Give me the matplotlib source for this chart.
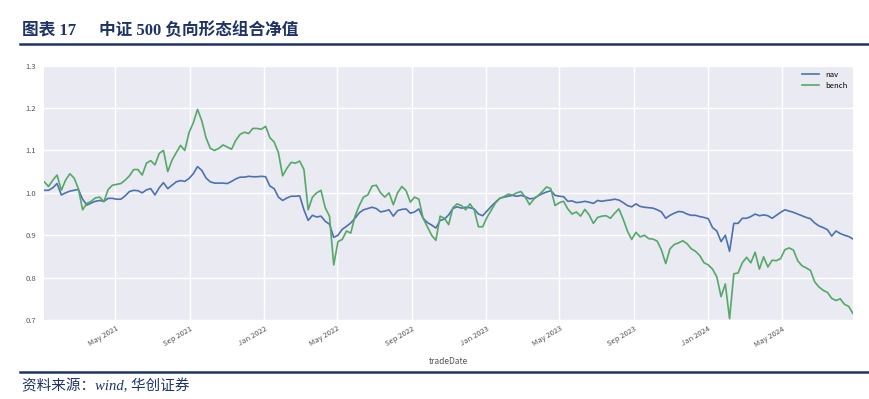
import matplotlib
matplotlib.use('Agg')
import matplotlib.pyplot as plt
import matplotlib.dates as mdates
import pandas as pd

plt.rcParams['font.family'] = ['Noto Sans CJK SC', 'DejaVu Sans']

# weekly net value (2021-01-04 .. 2024-08-26)
start_date = '2021-01-04'

nav = [
    1.006, 1.006, 1.012, 1.022, 0.995, 1.000, 1.004, 1.006, 1.008, 0.985,
    0.971, 0.976, 0.980, 0.982, 0.980, 0.987, 0.987, 0.985, 0.985, 0.993,
    1.003, 1.006, 1.005, 1.000, 1.007, 1.010, 0.995, 1.012, 1.024, 1.010,
    1.018, 1.026, 1.029, 1.027, 1.034, 1.045, 1.062, 1.053, 1.035, 1.026,
    1.023, 1.023, 1.023, 1.022, 1.027, 1.033, 1.037, 1.037, 1.039, 1.038,
    1.038, 1.039, 1.038, 1.016, 1.010, 0.990, 0.982, 0.988, 0.992, 0.992,
    0.993, 0.960, 0.935, 0.947, 0.943, 0.945, 0.933, 0.926, 0.895, 0.900,
    0.914, 0.921, 0.929, 0.940, 0.953, 0.960, 0.963, 0.966, 0.963, 0.955,
    0.957, 0.960, 0.945, 0.958, 0.961, 0.962, 0.952, 0.955, 0.962, 0.940,
    0.930, 0.924, 0.917, 0.935, 0.938, 0.948, 0.963, 0.967, 0.964, 0.966,
    0.965, 0.962, 0.950, 0.946, 0.957, 0.968, 0.978, 0.987, 0.990, 0.992,
    0.994, 0.992, 0.994, 0.991, 0.986, 0.987, 0.993, 0.998, 1.002, 1.005,
    0.994, 0.992, 0.991, 0.980, 0.981, 0.977, 0.978, 0.980, 0.978, 0.975,
    0.982, 0.980, 0.982, 0.983, 0.985, 0.983, 0.977, 0.970, 0.967, 0.974,
    0.968, 0.966, 0.965, 0.964, 0.960, 0.955, 0.940, 0.947, 0.952, 0.956,
    0.955, 0.950, 0.947, 0.947, 0.944, 0.942, 0.939, 0.918, 0.910, 0.885,
    0.900, 0.862, 0.928, 0.928, 0.940, 0.940, 0.944, 0.950, 0.946, 0.948,
    0.946, 0.940, 0.947, 0.954, 0.960, 0.957, 0.954, 0.950, 0.946, 0.942,
    0.939, 0.929, 0.922, 0.918, 0.913, 0.898, 0.910, 0.904, 0.900, 0.897,
    0.891,
]

bench = [
    1.026, 1.015, 1.030, 1.042, 1.006, 1.030, 1.045, 1.035, 1.010, 0.960,
    0.975, 0.980, 0.988, 0.990, 0.979, 1.008, 1.018, 1.020, 1.022, 1.030,
    1.040, 1.055, 1.055, 1.042, 1.070, 1.076, 1.066, 1.093, 1.100, 1.050,
    1.077, 1.095, 1.112, 1.100, 1.142, 1.165, 1.197, 1.170, 1.130, 1.105,
    1.100, 1.105, 1.113, 1.108, 1.103, 1.124, 1.138, 1.143, 1.140, 1.152,
    1.152, 1.150, 1.157, 1.130, 1.120, 1.095, 1.040, 1.058, 1.072, 1.070,
    1.075, 1.055, 0.960, 0.990, 1.000, 1.006, 0.965, 0.945, 0.830, 0.885,
    0.890, 0.910, 0.905, 0.945, 0.970, 0.990, 0.995, 1.016, 1.018, 1.000,
    0.990, 1.000, 0.972, 1.000, 1.015, 1.005, 0.978, 0.990, 0.985, 0.940,
    0.920, 0.900, 0.888, 0.945, 0.940, 0.925, 0.965, 0.974, 0.970, 0.960,
    0.974, 0.960, 0.920, 0.920, 0.942, 0.959, 0.976, 0.987, 0.991, 0.997,
    0.995, 1.000, 1.003, 0.990, 0.972, 0.985, 0.993, 1.003, 1.014, 1.010,
    0.970, 0.977, 0.980, 0.962, 0.950, 0.955, 0.945, 0.961, 0.948, 0.928,
    0.942, 0.945, 0.946, 0.940, 0.952, 0.962, 0.938, 0.910, 0.890, 0.907,
    0.896, 0.900, 0.892, 0.891, 0.886, 0.865, 0.833, 0.868, 0.878, 0.882,
    0.887, 0.880, 0.868, 0.862, 0.852, 0.835, 0.830, 0.820, 0.802, 0.755,
    0.785, 0.703, 0.809, 0.811, 0.835, 0.848, 0.835, 0.860, 0.820, 0.849,
    0.825, 0.841, 0.840, 0.845, 0.866, 0.870, 0.865, 0.840, 0.828, 0.823,
    0.817, 0.790, 0.778, 0.770, 0.765, 0.751, 0.746, 0.750, 0.737, 0.732,
    0.715,
]

dates = pd.date_range(start_date, periods=len(nav), freq='7D')

title_color = '#1f3366'
serif_cjk = ['Liberation Serif', 'Noto Sans CJK SC']

fig = plt.figure(figsize=(8.69, 3.99), dpi=100)

# report header / footer
fig.text(22 / 869, 1 - 31 / 399, '图表 17', family=serif_cjk,
         fontsize=12, fontweight='bold', color=title_color, va='center')
fig.text(99 / 869, 1 - 31 / 399, '中证 500 负向形态组合净值', family=serif_cjk,
         fontsize=12, fontweight='bold', color=title_color, va='center')
fig.add_artist(plt.Line2D([20 / 869, 1], [1 - 44 / 399] * 2,
                          color=title_color, lw=1.8))
fig.add_artist(plt.Line2D([20 / 869, 1], [1 - 372 / 399] * 2,
                          color=title_color, lw=1.8))
fig.text(22 / 869, 1 - 386 / 399, '资料来源：wind, 华创证券', family=serif_cjk,
         fontsize=10.5, style='italic', color=title_color, va='center')

ax = fig.add_axes([44.3 / 869, 1 - 320 / 399, (853 - 44.3) / 869, (320 - 65.7) / 399])
ax.set_facecolor('#eaeaf2')
for s in ax.spines.values():
    s.set_visible(False)
ax.grid(True, color='white', lw=1)
ax.set_axisbelow(True)

ax.plot(dates, nav, color='#4c72b0', lw=1.2, label='nav')
ax.plot(dates, bench, color='#55a868', lw=1.2, label='bench')

ax.set_xlim(dates[0], dates[-1])
ax.set_ylim(0.7, 1.3)
ax.set_yticks([0.7, 0.8, 0.9, 1.0, 1.1, 1.2, 1.3])
ax.set_yticklabels(['0.7', '0.8', '0.9', '1.0', '1.1', '1.2', '1.3'])

ax.xaxis.set_major_locator(mdates.MonthLocator(bymonth=[1, 5, 9]))
ax.xaxis.set_major_formatter(mdates.DateFormatter('%b %Y'))
ax.tick_params(axis='both', length=0, labelsize=5.5, colors='#555555')
ax.tick_params(axis='y', pad=6)
plt.setp(ax.get_xticklabels(), rotation=30, ha='right', rotation_mode='anchor')
ax.set_xlabel('tradeDate', fontsize=6, color='#555555', labelpad=6)

ax.legend(loc='upper right', fontsize=5.5, frameon=False, handlelength=2.2,
          labelspacing=0.35, borderaxespad=0.3)

fig.savefig('out.png', dpi=100)
